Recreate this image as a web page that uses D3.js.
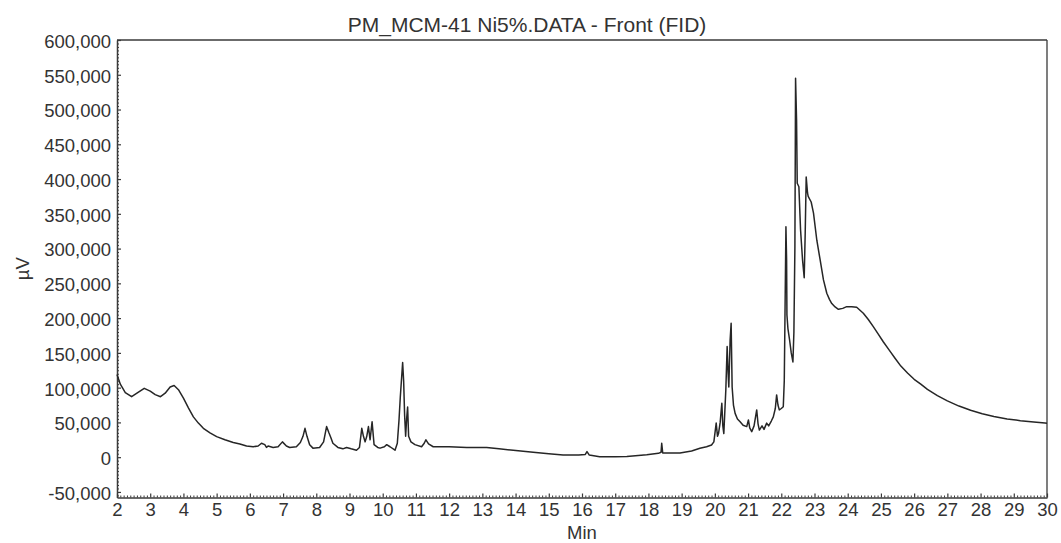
<!DOCTYPE html>
<html>
<head>
<meta charset="utf-8">
<script src="https://cdn.jsdelivr.net/npm/d3@7"></script>
<style>
  html, body { margin: 0; padding: 0; background: #fff; }
  svg { display: block; }
  text { font-family: "Liberation Sans", Arial, sans-serif; fill: #333; }
</style>
</head>
<body>
<svg id="chart" width="1061" height="543"></svg>
<script>
// ---- data ----
const title = "PM_MCM-41 Ni5%.DATA - Front (FID)";
const xLabel = "Min";
const yLabel = "µV";
const xTicks = d3.range(2, 31, 1);
const yTicks = d3.range(-50000, 600001, 50000);

// retention time (min)
const times = [
  2.00, 2.10, 2.25, 2.44, 2.60, 2.82, 3.00, 3.15, 3.31, 3.45, 3.60, 3.72, 3.85, 4.00, 4.15, 4.30,
  4.45, 4.60, 4.80, 5.00, 5.25, 5.50, 5.70, 5.90, 6.10, 6.25, 6.35, 6.45, 6.50, 6.55, 6.70, 6.85,
  6.98, 7.10, 7.20, 7.40, 7.52, 7.60, 7.66, 7.72, 7.80, 7.90, 8.10, 8.22, 8.31, 8.38, 8.44, 8.50,
  8.65, 8.80, 8.91, 9.05, 9.21, 9.30, 9.37, 9.42, 9.47, 9.52, 9.57, 9.62, 9.68, 9.74, 9.85, 9.92,
  10.05, 10.12, 10.22, 10.37, 10.44, 10.49, 10.53, 10.57, 10.60, 10.63, 10.66, 10.69, 10.72, 10.75,
  10.78, 10.85, 10.97, 11.17, 11.25, 11.30, 11.38, 11.52, 12.00, 12.53, 13.13, 13.50, 13.93, 14.53,
  15.00, 15.43, 15.90, 16.10, 16.15, 16.22, 16.53, 17.00, 17.35, 17.95, 18.30, 18.38, 18.40, 18.43,
  18.70, 18.95, 19.30, 19.55, 19.75, 19.90, 19.97, 20.04, 20.08, 20.11, 20.16, 20.21, 20.24, 20.27,
  20.33, 20.37, 20.40, 20.42, 20.46, 20.49, 20.52, 20.56, 20.61, 20.68, 20.76, 20.85, 20.96, 21.01,
  21.05, 21.11, 21.18, 21.26, 21.30, 21.34, 21.42, 21.48, 21.56, 21.62, 21.70, 21.76, 21.82, 21.86,
  21.90, 21.94, 22.00, 22.06, 22.09, 22.11, 22.14, 22.16, 22.17, 22.20, 22.25, 22.30, 22.35, 22.38,
  22.41, 22.43, 22.46, 22.48, 22.53, 22.58, 22.64, 22.69, 22.72, 22.75, 22.79, 22.81, 22.90, 22.97,
  23.07, 23.17, 23.27, 23.37, 23.45, 23.52, 23.62, 23.72, 23.85, 23.97, 24.12, 24.27, 24.47, 24.62,
  24.77, 24.92, 25.07, 25.25, 25.43, 25.60, 25.80, 26.00, 26.20, 26.40, 26.70, 27.00, 27.35, 27.70,
  28.05, 28.40, 28.80, 29.20, 29.60, 29.94, 30.00
];
// detector signal (µV)
const signal = [
  119000, 105000, 93000, 87000, 92000, 99000, 95000, 90000, 87000, 92000, 101000, 103000, 97000, 85000, 71000, 58000,
  49000, 41500, 35000, 29500, 25000, 21000, 19000, 16000, 15000, 16000, 20000, 18000, 14000, 16000, 14000, 15000,
  22000, 16000, 14000, 15000, 21000, 30000, 41500, 30000, 18000, 13000, 14000, 22000, 44000, 35000, 28000, 20000,
  14000, 12000, 14000, 12000, 10000, 14000, 41500, 30000, 22000, 30000, 44000, 25000, 51000, 18000, 14000, 13000,
  15000, 18000, 15000, 10000, 20000, 53000, 87000, 115000, 136000, 110000, 60000, 30000, 55000, 72000,
  30000, 22000, 18000, 15000, 20000, 25000, 19000, 15000, 15000, 14000, 14000, 12000, 10000, 7000,
  5000, 3000, 3000, 4000, 8000, 3000, 500, 500, 1000, 3500, 5500, 7000, 20000, 6000,
  6000, 6000, 9000, 12800, 15000, 17500, 22000, 49000, 30000, 34000, 50000, 77500, 45000, 34000,
  96600, 159000, 120000, 101000, 168500, 192500, 101000, 75000, 63000, 55000, 51000, 46000, 44000, 53500,
  42000, 36700, 45000, 68000, 48000, 39000, 45000, 40000, 49000, 45000, 52000, 58000, 70000, 89500,
  75000, 68000, 70000, 72600, 110000, 197000, 331500, 283600, 204500, 185000, 168500, 150000, 137000, 180000,
  303000, 545000, 485000, 394000, 389000, 327000, 283600, 258000, 322000, 403000, 380000, 375000, 367000, 351000,
  312000, 283600, 255000, 235700, 227000, 221000, 216000, 212700, 214000, 216500, 216500, 215600, 207000, 198000,
  187700, 177000, 166000, 154000, 142000, 131000, 121000, 112000, 105000, 97500, 88500, 81000, 73500, 67500,
  62500, 58500, 55000, 52500, 50500, 49000, 48700
];

// ---- chart ----
const svg = d3.select("#chart");
const pLeft = 117, pRight = 1047, pTop = 40, pBottom = 497.5;
const axisColor = "#3a3a3a";

const x = d3.scaleLinear().domain([2, 30]).range([pLeft, pRight]);
const y = d3.scaleLinear().domain([-58000, 600000]).range([pBottom, pTop]);

// frame (top and right)
svg.append("line").attr("x1", pLeft).attr("x2", pRight).attr("y1", pTop).attr("y2", pTop)
  .attr("stroke", axisColor).attr("stroke-width", 1.3);
svg.append("line").attr("x1", pRight).attr("x2", pRight).attr("y1", pTop).attr("y2", pBottom)
  .attr("stroke", axisColor).attr("stroke-width", 1.3);

// minor ticks
const xMinor = d3.range(20, 301, 1).map(d => d / 10).filter(d => !Number.isInteger(d));
const yMinor = d3.range(-55000, 600001, 5000).filter(d => d % 50000 !== 0);

const gxm = svg.append("g").attr("transform", `translate(0,${pBottom})`)
  .call(d3.axisBottom(x).tickValues(xMinor).tickSize(-2).tickSizeOuter(0).tickFormat(""));
const gym = svg.append("g").attr("transform", `translate(${pLeft},0)`)
  .call(d3.axisLeft(y).tickValues(yMinor).tickSize(-2).tickSizeOuter(0).tickFormat(""));
[gxm, gym].forEach(g => {
  g.select(".domain").remove();
  g.selectAll("line").attr("stroke", axisColor).attr("stroke-width", 1);
});

// major axes
const commaFmt = d3.format(",");
const gx = svg.append("g").attr("transform", `translate(0,${pBottom})`)
  .call(d3.axisBottom(x).tickValues(xTicks).tickSize(-4).tickSizeOuter(0).tickPadding(5).tickFormat(d3.format("d")));
const gy = svg.append("g").attr("transform", `translate(${pLeft},0)`)
  .call(d3.axisLeft(y).tickValues(yTicks).tickSize(-4).tickSizeOuter(0).tickPadding(6)
    .tickFormat(d => commaFmt(d).replace("\u2212", "-")));
[gx, gy].forEach(g => {
  g.select(".domain").attr("stroke", axisColor).attr("stroke-width", 1.5);
  g.selectAll("line").attr("stroke", axisColor).attr("stroke-width", 1.2);
  g.selectAll("text").style("font-family", "'Liberation Sans', Arial, sans-serif")
    .style("font-size", "18.5px").attr("fill", "#333");
});
gy.selectAll("text").attr("dy", "0.40em");

// trace
const pts = times.map((t, i) => [t, signal[i]]);
svg.append("path")
  .datum(pts)
  .attr("fill", "none")
  .attr("stroke", "#262626")
  .attr("stroke-width", 1.5)
  .attr("stroke-linejoin", "round")
  .attr("d", d3.line().x(d => x(d[0])).y(d => y(d[1])));

// title and axis labels
svg.append("text").attr("x", 527).attr("y", 32)
  .attr("text-anchor", "middle").style("font-size", "21px").text(title);
svg.append("text").attr("x", (pLeft + pRight) / 2).attr("y", 539)
  .attr("text-anchor", "middle").style("font-size", "18.5px").text(xLabel);
svg.append("text").attr("transform", `translate(29,${(pTop + pBottom) / 2}) rotate(-90)`)
  .attr("text-anchor", "middle").style("font-size", "18.5px").text(yLabel);
</script>
</body>
</html>
